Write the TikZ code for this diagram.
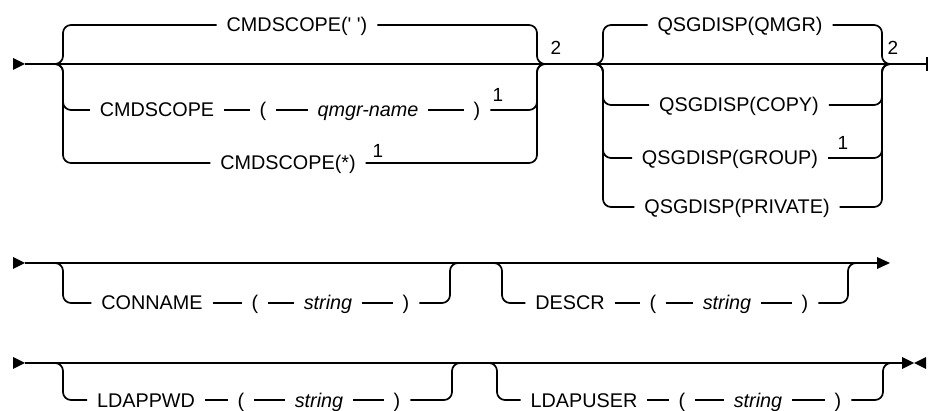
\documentclass[tikz,border=0pt]{standalone}
\usepackage{fontspec}
\setmainfont{Liberation Sans}
\begin{document}
\begin{tikzpicture}[x=1pt,y=-1pt,line width=1.7pt,
  kw/.style={inner xsep=10pt,inner ysep=0pt,outer sep=0pt,text height=14pt,text depth=0pt,font=\fontsize{19.8}{22}\selectfont},
  var/.style={kw,font=\fontsize{19.8}{22}\selectfont\itshape},
  refn/.style={inner sep=0pt,font=\fontsize{19}{20}\selectfont},
  rc/.style={rounded corners=8pt},
  tipfill/.style={fill=black,draw=none}]
\useasboundingbox (0,0) rectangle (929,411);

% ---------------- line 1 ----------------
\coordinate (s1) at (25,64);
\coordinate (e1) at (927,64);
\coordinate (g1l) at (63,64);
\coordinate (g1r) at (537,64);
\coordinate (g2l) at (603,64);
\coordinate (g2r) at (882,64);
\coordinate (t1) at (927,57);
\coordinate (t2) at (927,71);

\fill[tipfill] (13,58) -- (25,64) -- (13,70) -- cycle;
\draw (s1) -- (e1);
\draw[line cap=butt] (t1) -- (t2);

\node[kw] (cs0) at (297,25) {CMDSCOPE(\textquotesingle\ \textquotesingle)};
\node[kw] (cs1) at (157,110) {CMDSCOPE};
\node[kw] (cs1p) at (263,110) {(};
\node[var] (cs1q) at (368,110) {qmgr-name};
\node[kw] (cs1r) at (477,110) {)};
\node[refn] (n1a) at (498,95) {1};
\node[kw] (cs2) at (288,163) {CMDSCOPE(*)};
\node[refn] (n1b) at (378,151) {1};
\node[refn] (n2a) at (556,48) {2};

\draw[rc] ([xshift=-8pt]g1l) -| (g1l |- cs0.west) -- (cs0.west);
\draw[rc] ([xshift=-8pt]g1l) -| (g1l |- cs2.west) -- (cs2.west);
\draw[rc] ([xshift=-8pt]g1l) -| (g1l |- cs1.west) -- (cs1.west);
\draw (cs1.east) -- (cs1p.west);
\draw (cs1p.east) -- (cs1q.west);
\draw (cs1q.east) -- (cs1r.west);
\draw[rc] (cs0.east) -| (g1r) -- ([xshift=8pt]g1r);
\draw[rc] (cs1r.east) -| (g1r) -- ([xshift=8pt]g1r);
\draw[rc] (cs2.east) -| (g1r) -- ([xshift=8pt]g1r);

\node[kw] (q0) at (740,25) {QSGDISP(QMGR)};
\node[kw] (q1) at (739,105) {QSGDISP(COPY)};
\node[kw] (q2) at (730,158) {QSGDISP(GROUP)};
\node[refn] (n1c) at (843,143) {1};
\node[kw] (q3) at (737,207) {QSGDISP(PRIVATE)};
\node[refn] (n2b) at (893,48) {2};

\draw[rc] ([xshift=-8pt]g2l) -| (g2l |- q0.west) -- (q0.west);
\draw[rc] ([xshift=-8pt]g2l) -| (g2l |- q3.west) -- (q3.west);
\draw[rc] ([xshift=-8pt]g2l) -| (g2l |- q1.west) -- (q1.west);
\draw[rc] ([xshift=-8pt]g2l) -| (g2l |- q2.west) -- (q2.west);
\draw[rc] (q0.east) -| (g2r) -- ([xshift=8pt]g2r);
\draw[rc] (q1.east) -| (g2r) -- ([xshift=8pt]g2r);
\draw[rc] (q2.east) -| (g2r) -- ([xshift=8pt]g2r);
\draw[rc] (q3.east) -| (g2r) -- ([xshift=8pt]g2r);

% ---------------- line 2 ----------------
\coordinate (s2) at (25,263);
\coordinate (e2) at (878,263);
\coordinate (h1l) at (63,263);
\coordinate (h1r) at (450,263);
\coordinate (h2l) at (502,263);
\coordinate (h2r) at (848,263);

\fill[tipfill] (13,257) -- (25,263) -- (13,269) -- cycle;
\draw (s2) -- (e2);
\fill[tipfill] (877,257) -- (890,263) -- (877,269) -- cycle;

\node[kw] (cn) at (152,303) {CONNAME};
\node[kw] (cnp) at (255,303) {(};
\node[var] (cnq) at (328,303) {string};
\node[kw] (cnr) at (406,303) {)};
\draw[rc] ([xshift=-8pt]h1l) -| (h1l |- cn.west) -- (cn.west);
\draw (cn.east) -- (cnp.west);
\draw (cnp.east) -- (cnq.west);
\draw (cnq.east) -- (cnr.west);
\draw[rc] (cnr.east) -| (h1r) -- ([xshift=8pt]h1r);

\node[kw] (de) at (570,303) {DESCR};
\node[kw] (dep) at (653,303) {(};
\node[var] (deq) at (727,303) {string};
\node[kw] (der) at (805,303) {)};
\draw[rc] ([xshift=-8pt]h2l) -| (h2l |- de.west) -- (de.west);
\draw (de.east) -- (dep.west);
\draw (dep.east) -- (deq.west);
\draw (deq.east) -- (der.west);
\draw[rc] (der.east) -| (h2r) -- ([xshift=8pt]h2r);

% ---------------- line 3 ----------------
\coordinate (s3) at (25,363);
\coordinate (e3) at (903,363);
\coordinate (k1l) at (63,363);
\coordinate (k1r) at (452,363);
\coordinate (k2l) at (497,363);
\coordinate (k2r) at (883,363);

\fill[tipfill] (13,357) -- (25,363) -- (13,369) -- cycle;
\draw (s3) -- (e3);
\fill[tipfill] (902,357) -- (914,363) -- (902,369) -- cycle;
\fill[tipfill] (926,357) -- (914,363) -- (926,369) -- cycle;

\node[kw] (lp) at (146,400) {LDAPPWD};
\node[kw] (lpp) at (241,400) {(};
\node[var] (lpq) at (319,400) {string};
\node[kw] (lpr) at (397,400) {)};
\draw[rc] ([xshift=-8pt]k1l) -| (k1l |- lp.west) -- (lp.west);
\draw (lp.east) -- (lpp.west);
\draw (lpp.east) -- (lpq.west);
\draw (lpq.east) -- (lpr.west);
\draw[rc] (lpr.east) -| (k1r) -- ([xshift=8pt]k1r);

\node[kw] (lu) at (584,400) {LDAPUSER};
\node[kw] (lup) at (682,400) {(};
\node[var] (luq) at (758,400) {string};
\node[kw] (lur) at (838,400) {)};
\draw[rc] ([xshift=-8pt]k2l) -| (k2l |- lu.west) -- (lu.west);
\draw (lu.east) -- (lup.west);
\draw (lup.east) -- (luq.west);
\draw (luq.east) -- (lur.west);
\draw[rc] (lur.east) -| (k2r) -- ([xshift=8pt]k2r);
\end{tikzpicture}
\end{document}
